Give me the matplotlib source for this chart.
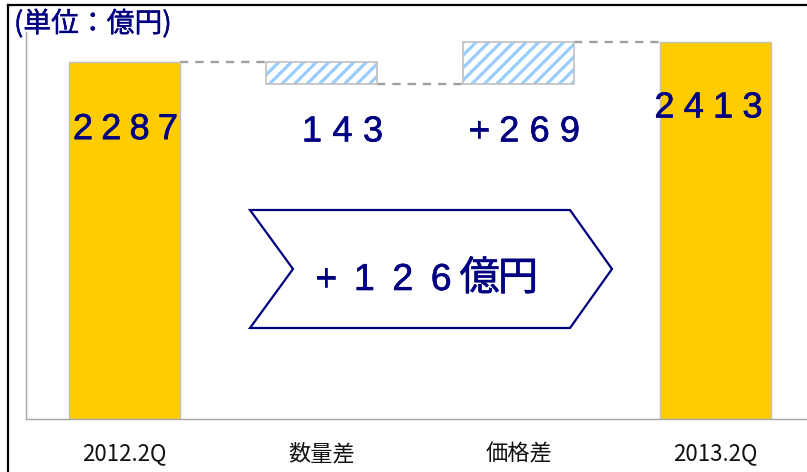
import numpy as np
import matplotlib
matplotlib.use("Agg")
import matplotlib.pyplot as plt
import matplotlib.patheffects as pe
from matplotlib.lines import Line2D
from matplotlib.patches import Polygon
from matplotlib.transforms import IdentityTransform

# ---------------------------------------------------------------------
# Waterfall data (unit: 100 million yen)
# ---------------------------------------------------------------------
CATEGORIES = ["2012.2Q", "数量差", "価格差", "2013.2Q"]
START_TOTAL = 2287
END_TOTAL = 2413
DELTAS = [-143, 269]          # volume difference, price difference
UNIT_TITLE = "(単位：億円)"

W, H = 807, 472
GOLD = "#FFCC00"
NAVY = "#000080"
STRIPE = "#99CCFF"
EDGE = "#C0C0C0"
DASH = "#A0A0A0"
BAR_W = 0.56

plt.rcParams["font.family"] = ["Liberation Sans", "Noto Sans CJK JP"]
plt.rcParams["lines.scale_dashes"] = False

# slightly heavier strokes for the navy figures
HEAVY = [pe.withStroke(linewidth=0.45, foreground=NAVY)]


def fx(px):
    return px / W


def fy(py):
    return 1 - py / H


fig = plt.figure(figsize=(W / 100, H / 100), dpi=100)
ax = fig.add_axes([fx(26), fy(419), 788 / W, (419 - 32) / H])
ax.set_xlim(-0.5, 3.5)
ax.set_ylim(0, 2480)

x = np.arange(len(CATEGORIES))
levels = np.cumsum([START_TOTAL] + DELTAS)   # running total after each step

# totals
ax.bar([x[0], x[3]], [START_TOTAL, END_TOTAL], width=BAR_W, color=GOLD,
       edgecolor=EDGE, linewidth=1, zorder=2)

# differences: white face, striped fill, grey outline
d_bottom = [min(levels[i], levels[i + 1]) for i in range(len(DELTAS))]
d_height = [abs(d) for d in DELTAS]
faces = ax.bar(x[1:3], d_height, bottom=d_bottom, width=BAR_W, color="white",
               edgecolor="none", zorder=2)
ax.bar(x[1:3], d_height, bottom=d_bottom, width=BAR_W, fill=False,
       edgecolor=EDGE, linewidth=1.2, zorder=4)


def stripe(rect, step=12.5):
    (x0, y0), (x1, y1) = ax.transData.transform(
        [(rect.get_x(), rect.get_y()),
         (rect.get_x() + rect.get_width(), rect.get_y() + rect.get_height())])
    h = y1 - y0
    for s in np.arange(x0 - h, x1 + step, step):
        ln = Line2D([s, s + h], [y0, y1], transform=IdentityTransform(),
                    color=STRIPE, linewidth=2.3, zorder=3)
        ax.add_artist(ln)
        # add_artist resets clipping to the axes, so clip to the bar afterwards
        ln.set_clip_path(rect)


for r in faces:
    stripe(r)

# dashed connectors between consecutive bars
for i, lv in enumerate(levels):
    ax.plot([x[i] + BAR_W / 2, x[i + 1] - BAR_W / 2], [lv, lv], color=DASH,
            linewidth=1.7, dashes=(6, 5), zorder=1)


def spaced(xv, yv, text, pitch, dx=0, dy=0, size=26):
    n = len(text)
    for i, ch in enumerate(text):
        off = dx + (i - (n - 1) / 2) * pitch
        ax.annotate(ch, (xv, yv), xytext=(off, dy), textcoords="offset pixels",
                    ha="center", va="baseline", fontsize=size, color=NAVY,
                    path_effects=HEAVY, zorder=5)


spaced(x[0], START_TOTAL, f"{START_TOTAL}", 28.3, dx=1, dy=-77)
spaced(x[3], END_TOTAL, f"{END_TOTAL}", 29.3, dx=-7, dy=-75)
spaced(x[1], levels[1], f"{abs(DELTAS[0])}", 30.5, dx=21, dy=-57)
spaced(x[2], levels[1], f"+{DELTAS[1]}", 30.3, dx=6, dy=-57)

# axes styling
for side in ("top", "right"):
    ax.spines[side].set_visible(False)
for side in ("left", "bottom"):
    ax.spines[side].set_color("#A6A6A6")
    ax.spines[side].set_linewidth(1)
ax.set_yticks([])
ax.set_xticks(x, CATEGORIES)
ax.tick_params(axis="x", length=0, pad=17, labelsize=16, labelcolor="#111111")
for t in ax.get_xticklabels():
    t.set_fontfamily("Noto Sans CJK JP")

# unit note
fig.text(fx(14), fy(24), UNIT_TITLE, ha="left", va="center", fontsize=20,
         color=NAVY, family="Noto Sans CJK JP",
         path_effects=[pe.withStroke(linewidth=0.3, foreground=NAVY)])

# outer frame (top and left edges)
fig.add_artist(Line2D([fx(8), 1], [fy(4.5), fy(4.5)], color="black", linewidth=1.6))
fig.add_artist(Line2D([fx(8), fx(8)], [fy(4.5), 0], color="black", linewidth=1.6))

# chevron with the net change
chev = [(250, 210), (570, 210), (612, 269), (570, 328), (250, 328), (293, 269)]
fig.add_artist(Polygon([(fx(a), fy(b)) for a, b in chev], closed=True,
                       transform=fig.transFigure, facecolor="white",
                       edgecolor=NAVY, linewidth=1.6, zorder=6))
net = f"+{END_TOTAL - START_TOTAL}億円"
n = len(net)
for i, ch in enumerate(net):
    xc = 422 + (i - (n - 1) / 2) * 38.4
    cjk = ord(ch) > 0x3000
    fig.text(fx(xc), fy(290), ch, ha="center", va="baseline",
             fontsize=29 if cjk else 27, color=NAVY, path_effects=HEAVY,
             zorder=7)

fig.savefig("out.png", dpi=100)
